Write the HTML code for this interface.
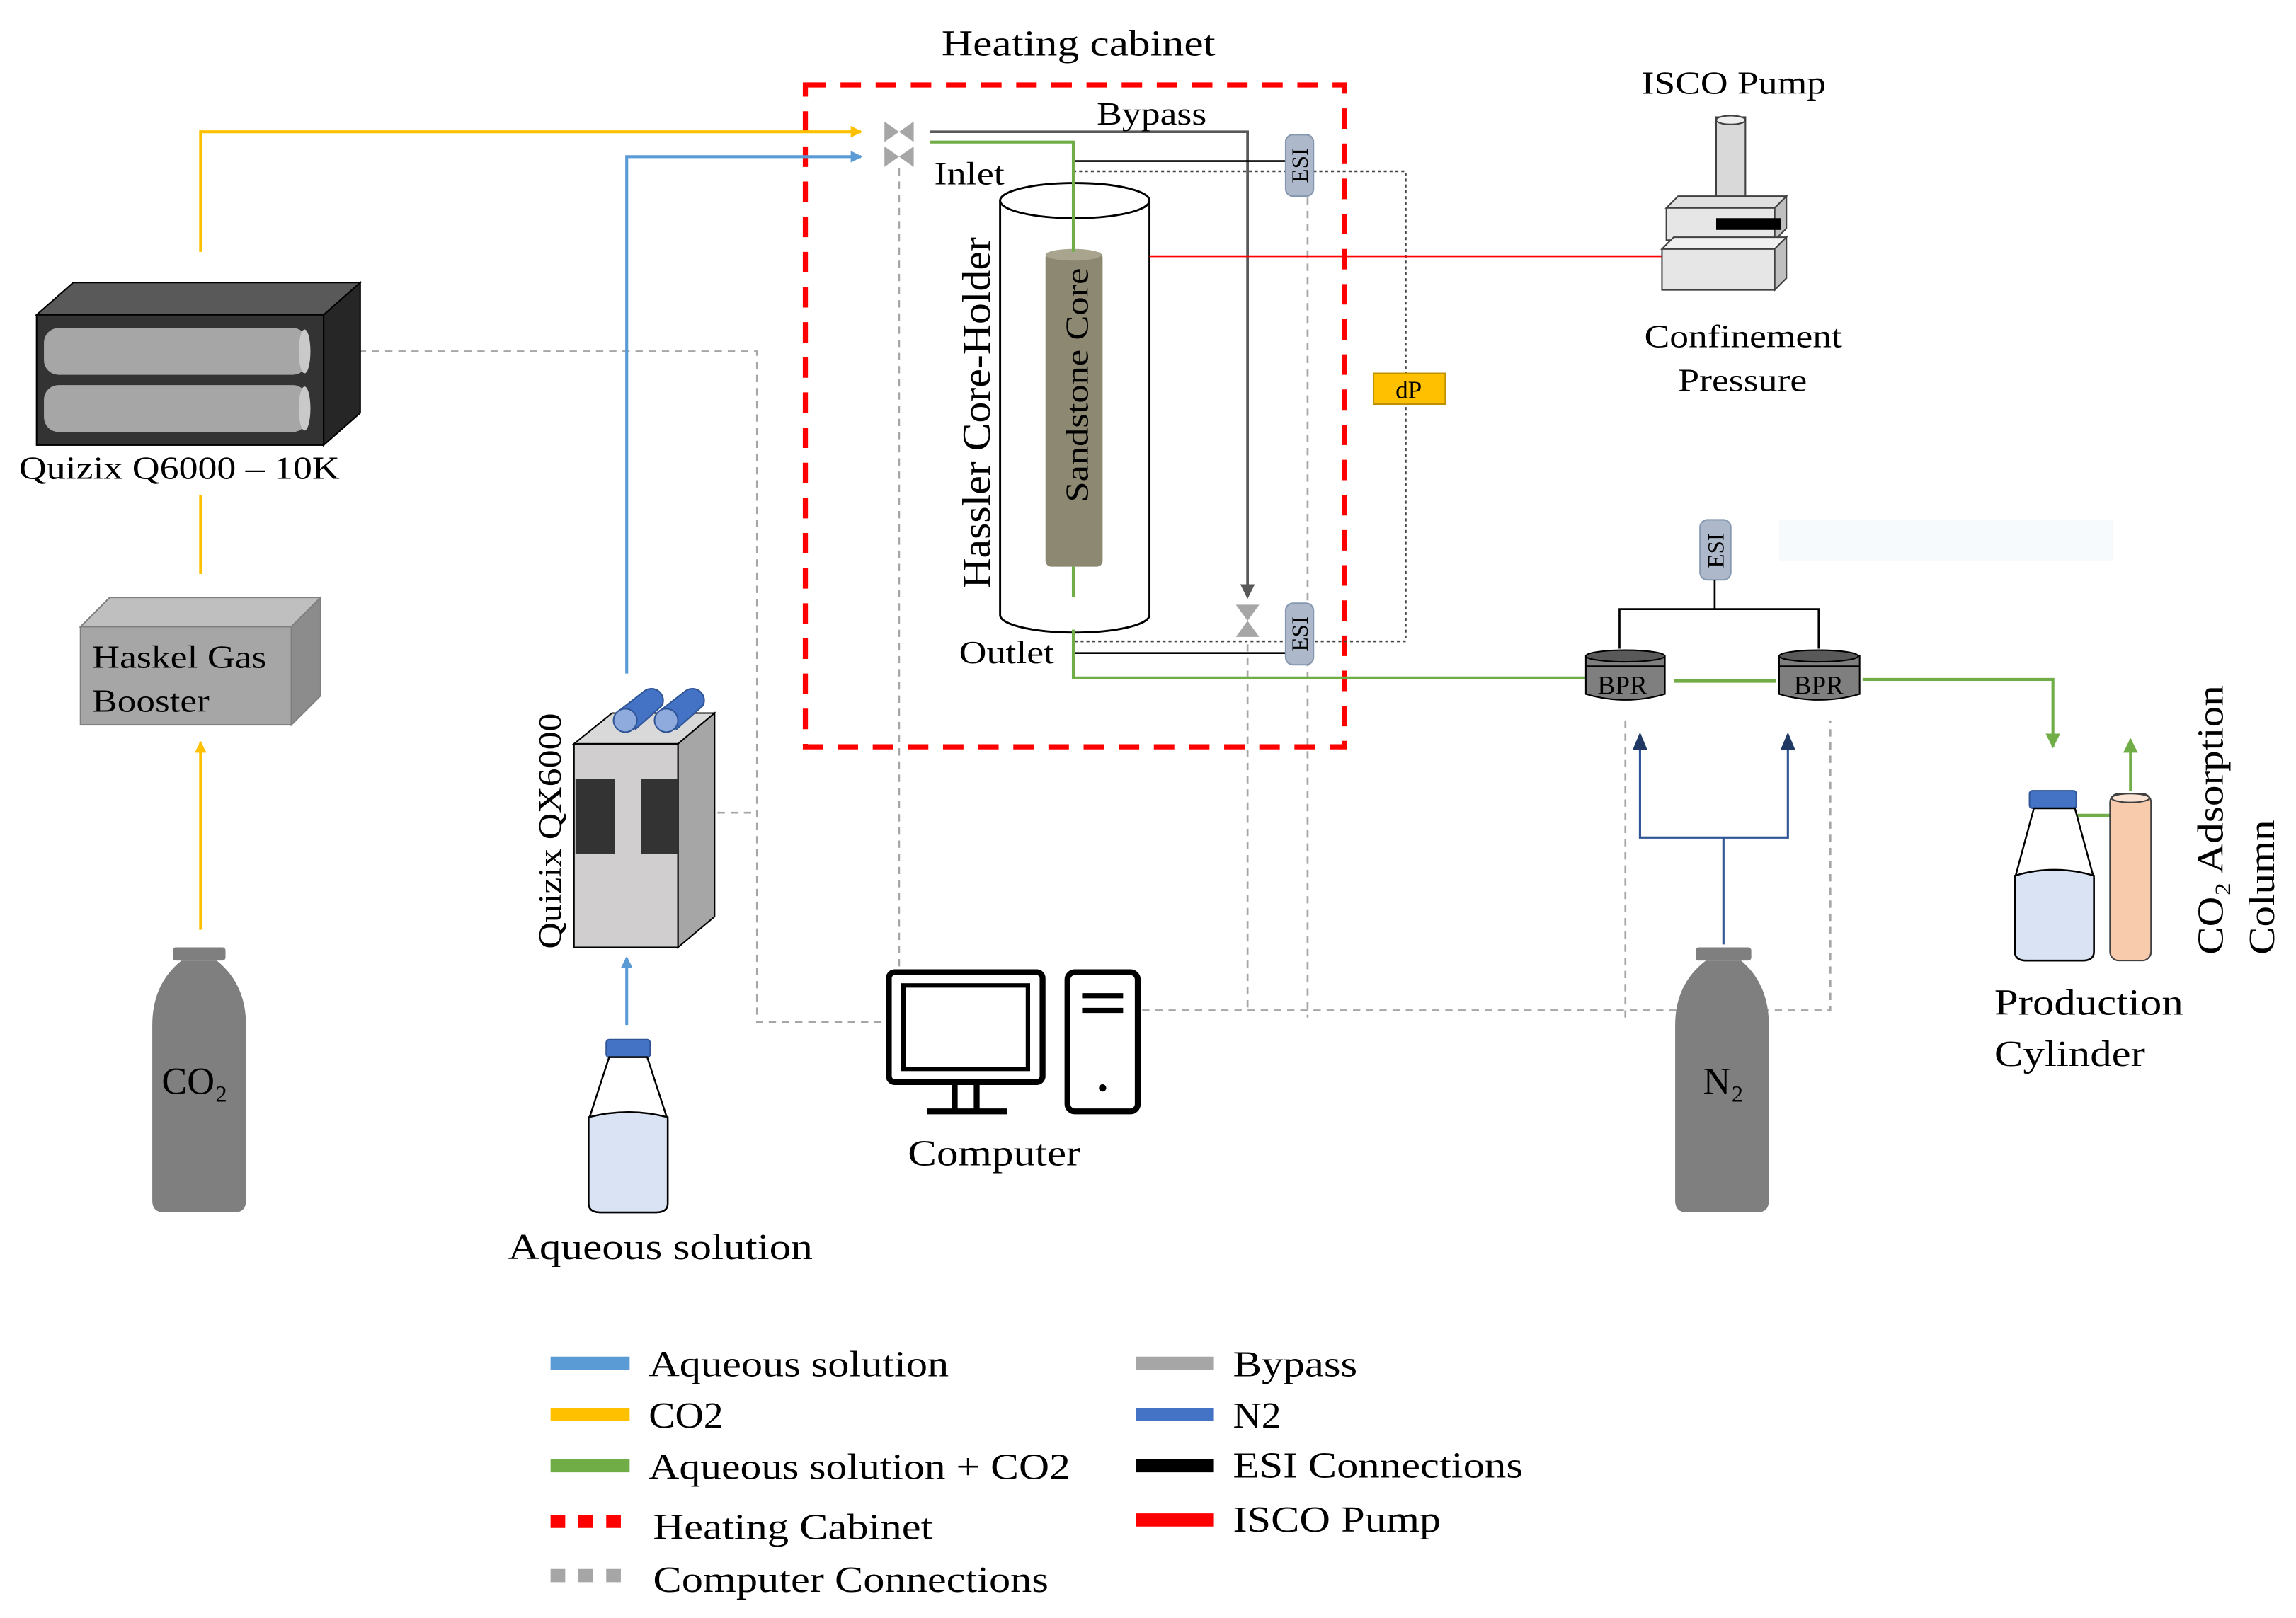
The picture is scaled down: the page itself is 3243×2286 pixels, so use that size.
<!DOCTYPE html>
<html><head><meta charset="utf-8"><style>
html,body{margin:0;padding:0;background:#fff;}
svg{display:block;}
text{font-family:"Liberation Serif",serif;fill:#000;}
</style></head><body>
<svg width="3243" height="2286" viewBox="0 0 1568 1105" preserveAspectRatio="none" xmlns="http://www.w3.org/2000/svg">
<defs>
<marker id="ay" markerWidth="8" markerHeight="8" refX="7" refY="4" orient="auto" markerUnits="userSpaceOnUse"><path d="M0,0 L8,4 L0,8 Z" fill="#FFC000"/></marker>
<marker id="ab" markerWidth="8" markerHeight="8" refX="7" refY="4" orient="auto" markerUnits="userSpaceOnUse"><path d="M0,0 L8,4 L0,8 Z" fill="#5B9BD5"/></marker>
<marker id="ag" markerWidth="10" markerHeight="10" refX="9" refY="5" orient="auto" markerUnits="userSpaceOnUse"><path d="M0,0 L10,5 L0,10 Z" fill="#70AD47"/></marker>
<marker id="agr" markerWidth="10" markerHeight="10" refX="9" refY="5" orient="auto" markerUnits="userSpaceOnUse"><path d="M0,0 L10,5 L0,10 Z" fill="#595959"/></marker>
</defs>

<rect x="1215" y="355" width="228" height="28" fill="#F7FAFD"/>

<g stroke="#A6A6A6" stroke-width="1.3" stroke-dasharray="5,4" fill="none">
<path d="M245,240 H517 V698 H605"/>
<path d="M490,555 H517"/>
<path d="M614,115 V660"/>
<path d="M893,135 V695"/>
<path d="M852,440 V690"/>
<path d="M780,690 H1250 V492"/>
<path d="M1110,695 V492"/>
</g>

<rect x="550" y="58" width="368" height="452" fill="none" stroke="#FF0000" stroke-width="3.5" stroke-dasharray="14,10"/>
<text x="643" y="38" font-size="25" textLength="187" lengthAdjust="spacingAndGlyphs">Heating cabinet</text>

<path d="M137,172 V90 H588" stroke="#FFC000" stroke-width="2" fill="none" marker-end="url(#ay)"/>
<path d="M137,338 V392" stroke="#FFC000" stroke-width="2"/>
<path d="M137,635 V507" stroke="#FFC000" stroke-width="2" marker-end="url(#ay)"/>
<path d="M428,460 V107 H588" stroke="#5B9BD5" stroke-width="2" fill="none" marker-end="url(#ab)"/>
<path d="M428,700 V654" stroke="#5B9BD5" stroke-width="2" marker-end="url(#ab)"/>

<g fill="#A6A6A6">
<path d="M604,83 L614,90 L604,97 Z M624,83 L614,90 L624,97 Z"/>
<path d="M604,100 L614,107 L604,114 Z M624,100 L614,107 L624,114 Z"/>
<path d="M725,407 L741,407 L733,418 Z M725,429 L741,429 L733,418 Z"/>
<path d="M844,413 L860,413 L852,424 Z M844,435 L860,435 L852,424 Z"/>
</g>

<path d="M635,90 H852 V408" stroke="#595959" stroke-width="1.8" fill="none" marker-end="url(#agr)"/>
<text x="749" y="85" font-size="22" textLength="75" lengthAdjust="spacingAndGlyphs">Bypass</text>
<text x="638" y="126" font-size="22" textLength="48" lengthAdjust="spacingAndGlyphs">Inlet</text>
<text x="655" y="453" font-size="22" textLength="65" lengthAdjust="spacingAndGlyphs">Outlet</text>

<path d="M733,110 H880" stroke="#000" stroke-width="1.3"/>
<path d="M733,446 H880" stroke="#000" stroke-width="1.3"/>
<path d="M733,117 H960 V438 H733" stroke="#444" stroke-width="1.2" stroke-dasharray="2,2" fill="none"/>
<rect x="938" y="255" width="49" height="21" fill="#FFC000" stroke="#BF9000" stroke-width="1"/>
<text x="962" y="272" font-size="17" text-anchor="middle">dP</text>

<path d="M683,137 V420 A51,12 0 0 0 785,420 V137" fill="#fff" stroke="#000" stroke-width="1.4"/>
<ellipse cx="734" cy="137" rx="51" ry="12" fill="#fff" stroke="#000" stroke-width="1.4"/>
<rect x="714" y="172" width="39" height="215" rx="4" fill="#8C8872"/>
<ellipse cx="733" cy="174" rx="19" ry="4" fill="#A8A48E"/>
<text transform="translate(743,343) rotate(-90)" font-size="22" textLength="160" lengthAdjust="spacingAndGlyphs">Sandstone Core</text>
<text transform="translate(676,402) rotate(-90)" font-size="27" textLength="240" lengthAdjust="spacingAndGlyphs">Hassler Core-Holder</text>

<path d="M635,97 H733 V172" stroke="#70AD47" stroke-width="2" fill="none"/>
<path d="M733,387 V408" stroke="#70AD47" stroke-width="2"/>
<path d="M733,430 V463 H1083" stroke="#70AD47" stroke-width="2" fill="none"/>
<path d="M1143,465 H1213" stroke="#70AD47" stroke-width="2.5"/>
<path d="M1272,464 H1402 V510" stroke="#70AD47" stroke-width="2" fill="none" marker-end="url(#ag)"/>
<path d="M1416,557 H1452" stroke="#70AD47" stroke-width="2.5" marker-end="url(#ag)"/>
<path d="M1455,540 V505" stroke="#70AD47" stroke-width="2" marker-end="url(#ag)"/>

<path d="M785,175 H1135" stroke="#FF0000" stroke-width="1.3"/>

<g>
<rect x="878" y="92" width="19" height="42" rx="5" fill="#ADB9CA" stroke="#8497B0"/>
<text transform="translate(893,113) rotate(-90)" font-size="16" text-anchor="middle">ESI</text>
<rect x="878" y="412" width="19" height="42" rx="5" fill="#ADB9CA" stroke="#8497B0"/>
<text transform="translate(893,433) rotate(-90)" font-size="16" text-anchor="middle">ESI</text>
<rect x="1161" y="355" width="21" height="41" rx="5" fill="#ADB9CA" stroke="#8497B0"/>
<text transform="translate(1177,376) rotate(-90)" font-size="16" text-anchor="middle">ESI</text>
</g>
<path d="M1171,396 V416 M1106,443 V416 H1242 V443" stroke="#000" stroke-width="1.3" fill="none"/>

<g stroke="#000" stroke-width="1">
<path d="M1083,448 V474 Q1110,482 1137,474 V448 Z" fill="#7F7F7F"/>
<ellipse cx="1110" cy="448" rx="27" ry="4" fill="#595959"/>
<line x1="1083" y1="455" x2="1137" y2="455"/>
<path d="M1215,448 V474 Q1242,482 1270,474 V448 Z" fill="#7F7F7F"/>
<ellipse cx="1242" cy="448" rx="27" ry="4" fill="#595959"/>
<line x1="1215" y1="455" x2="1270" y2="455"/>
</g>
<text x="1108" y="474" font-size="18" text-anchor="middle">BPR</text>
<text x="1242" y="474" font-size="18" text-anchor="middle">BPR</text>

<path d="M1177,645 V572 H1120 V507 M1177,572 H1221 V507" stroke="#2F5597" stroke-width="1.5" fill="none"/>
<path d="M1115,512 L1120,500 L1125,512 Z M1216,512 L1221,500 L1226,512 Z" fill="#1F3864"/>

<text x="1121" y="64" font-size="22" textLength="126" lengthAdjust="spacingAndGlyphs">ISCO Pump</text>
<rect x="1172" y="80" width="20" height="55" fill="#D9D9D9" stroke="#404040"/>
<ellipse cx="1182" cy="82" rx="10" ry="3" fill="#eee" stroke="#404040"/>
<path d="M1138,142 L1146,134 H1220 L1212,142 Z" fill="#E0E0E0" stroke="#404040"/>
<rect x="1138" y="142" width="74" height="22" fill="#E7E6E6" stroke="#404040"/>
<path d="M1212,142 L1220,134 V156 L1212,164 Z" fill="#BFBFBF" stroke="#404040"/>
<rect x="1172" y="149" width="44" height="8" fill="#000"/>
<rect x="1135" y="170" width="77" height="28" fill="#E7E6E6" stroke="#404040"/>
<path d="M1135,170 L1143,162 H1220 L1212,170 Z" fill="#F0F0F0" stroke="#404040"/>
<path d="M1212,170 L1220,162 V190 L1212,198 Z" fill="#BFBFBF" stroke="#404040"/>
<text x="1123" y="237" font-size="22" textLength="135" lengthAdjust="spacingAndGlyphs">Confinement</text>
<text x="1146" y="267" font-size="22" textLength="88" lengthAdjust="spacingAndGlyphs">Pressure</text>

<path d="M25,215 L50,193 H246 L221,215 Z" fill="#595959" stroke="#000"/>
<path d="M221,215 L246,193 V282 L221,304 Z" fill="#262626" stroke="#000"/>
<rect x="25" y="215" width="196" height="89" fill="#333" stroke="#000"/>
<rect x="30" y="224" width="180" height="32" rx="10" fill="#A6A6A6"/>
<ellipse cx="208" cy="240" rx="4" ry="15" fill="#C9C9C9"/>
<rect x="30" y="263" width="180" height="32" rx="10" fill="#A6A6A6"/>
<ellipse cx="208" cy="279" rx="4" ry="15" fill="#C9C9C9"/>
<text x="13" y="327" font-size="22" textLength="219" lengthAdjust="spacingAndGlyphs">Quizix Q6000 – 10K</text>

<path d="M55,428 L75,408 H219 L199,428 Z" fill="#BFBFBF" stroke="#7F7F7F"/>
<path d="M199,428 L219,408 V475 L199,495 Z" fill="#8C8C8C" stroke="#7F7F7F"/>
<rect x="55" y="428" width="144" height="67" fill="#A6A6A6" stroke="#7F7F7F"/>
<text x="63" y="456" font-size="22" textLength="119" lengthAdjust="spacingAndGlyphs">Haskel Gas</text>
<text x="63" y="486" font-size="22" textLength="80" lengthAdjust="spacingAndGlyphs">Booster</text>

<rect x="118" y="647" width="36" height="9" rx="2" fill="#7F7F7F"/>
<path d="M124,656 H148 Q168,672 168,700 V820 Q168,828 160,828 H112 Q104,828 104,820 V700 Q104,672 124,656 Z" fill="#7F7F7F"/>
<text x="133" y="747" font-size="26" text-anchor="middle">CO₂</text>

<rect x="1158" y="647" width="38" height="9" rx="2" fill="#7F7F7F"/>
<path d="M1165,656 H1189 Q1208,672 1208,700 V820 Q1208,828 1200,828 H1152 Q1144,828 1144,820 V700 Q1144,672 1165,656 Z" fill="#7F7F7F"/>
<text x="1177" y="747" font-size="26" text-anchor="middle">N₂</text>

<path d="M392,508 L418,487 H488 L463,508 Z" fill="#D9D9D9" stroke="#000"/>
<path d="M463,508 L488,487 V626 L463,647 Z" fill="#A6A6A6" stroke="#000"/>
<rect x="392" y="508" width="71" height="139" fill="#D0CECE" stroke="#000"/>
<rect x="393" y="532" width="27" height="51" fill="#333"/>
<rect x="438" y="532" width="25" height="51" fill="#333"/>
<g stroke="#2F5597" stroke-width="1">
<path d="M422,486 L440,472 A8,8 0 0 1 452,482 L434,498 Z" fill="#4472C4"/>
<circle cx="427" cy="492" r="8" fill="#8FAADC"/>
<path d="M450,486 L468,472 A8,8 0 0 1 480,482 L462,498 Z" fill="#4472C4"/>
<circle cx="455" cy="492" r="8" fill="#8FAADC"/>
</g>
<text transform="translate(383,648) rotate(-90)" font-size="22" textLength="161" lengthAdjust="spacingAndGlyphs">Quizix QX6000</text>

<rect x="414" y="710" width="30" height="12" rx="2" fill="#4472C4" stroke="#2F5597"/>
<path d="M416,722 L402,765 V822 Q402,828 410,828 H448 Q456,828 456,822 V765 L442,722 Z" fill="#fff" stroke="#000" stroke-width="1.2"/>
<path d="M402,763 Q429,756 456,763 V822 Q456,828 448,828 H410 Q402,828 402,822 Z" fill="#DAE3F3" stroke="#000" stroke-width="1.2"/>
<text x="347" y="860" font-size="25" textLength="208" lengthAdjust="spacingAndGlyphs">Aqueous solution</text>

<rect x="1386" y="540" width="32" height="12" rx="2" fill="#4472C4" stroke="#2F5597"/>
<path d="M1389,552 L1376,600 V650 Q1376,656 1384,656 H1422 Q1430,656 1430,650 V600 L1417,552 Z" fill="#fff" stroke="#000" stroke-width="1.2"/>
<path d="M1376,598 Q1403,590 1430,598 V650 Q1430,656 1422,656 H1384 Q1376,656 1376,650 Z" fill="#DAE3F3" stroke="#000" stroke-width="1.2"/>
<rect x="1441" y="542" width="28" height="114" rx="6" fill="#F8CBAD" stroke="#404040"/>
<ellipse cx="1455" cy="545" rx="13" ry="3" fill="#FBE3D4" stroke="#404040"/>
<text x="1362" y="693" font-size="25" textLength="129" lengthAdjust="spacingAndGlyphs">Production</text>
<text x="1362" y="728" font-size="25" textLength="103" lengthAdjust="spacingAndGlyphs">Cylinder</text>
<text transform="translate(1518,652) rotate(-90)" font-size="25" textLength="184" lengthAdjust="spacingAndGlyphs">CO₂ Adsorption</text>
<text transform="translate(1553,652) rotate(-90)" font-size="25" textLength="92" lengthAdjust="spacingAndGlyphs">Column</text>

<rect x="607" y="664" width="105" height="75" rx="4" fill="#fff" stroke="#000" stroke-width="4"/>
<rect x="617" y="673" width="85" height="57" fill="#fff" stroke="#000" stroke-width="3"/>
<path d="M652,740 V758 M667,740 V758 M633,759 H688" stroke="#000" stroke-width="4"/>
<rect x="729" y="664" width="48" height="95" rx="5" fill="#fff" stroke="#000" stroke-width="4"/>
<path d="M739,680 H767 M739,690 H767" stroke="#000" stroke-width="3.5"/>
<circle cx="753" cy="743" r="2.5" fill="#000"/>
<text x="620" y="796" font-size="25" textLength="118" lengthAdjust="spacingAndGlyphs">Computer</text>

<g stroke-width="9">
<line x1="376" y1="931" x2="430" y2="931" stroke="#5B9BD5"/>
<line x1="376" y1="966" x2="430" y2="966" stroke="#FFC000"/>
<line x1="376" y1="1001" x2="430" y2="1001" stroke="#70AD47"/>
<line x1="376" y1="1039" x2="430" y2="1039" stroke="#FF0000" stroke-dasharray="10,9"/>
<line x1="376" y1="1076" x2="430" y2="1076" stroke="#A6A6A6" stroke-dasharray="10,9"/>
<line x1="776" y1="931" x2="829" y2="931" stroke="#A6A6A6"/>
<line x1="776" y1="966" x2="829" y2="966" stroke="#4472C4"/>
<line x1="776" y1="1001" x2="829" y2="1001" stroke="#000"/>
<line x1="776" y1="1038" x2="829" y2="1038" stroke="#FF0000"/>
</g>
<g font-size="25">
<text x="443" y="940" textLength="205" lengthAdjust="spacingAndGlyphs">Aqueous solution</text>
<text x="443" y="975" textLength="51" lengthAdjust="spacingAndGlyphs">CO2</text>
<text x="443" y="1010" textLength="288" lengthAdjust="spacingAndGlyphs">Aqueous solution + CO2</text>
<text x="446" y="1051" textLength="191" lengthAdjust="spacingAndGlyphs">Heating Cabinet</text>
<text x="446" y="1087" textLength="270" lengthAdjust="spacingAndGlyphs">Computer Connections</text>
<text x="842" y="940" textLength="85" lengthAdjust="spacingAndGlyphs">Bypass</text>
<text x="842" y="975" textLength="33" lengthAdjust="spacingAndGlyphs">N2</text>
<text x="842" y="1009" textLength="198" lengthAdjust="spacingAndGlyphs">ESI Connections</text>
<text x="842" y="1046" textLength="142" lengthAdjust="spacingAndGlyphs">ISCO Pump</text>
</g>
</svg>
</body></html>
